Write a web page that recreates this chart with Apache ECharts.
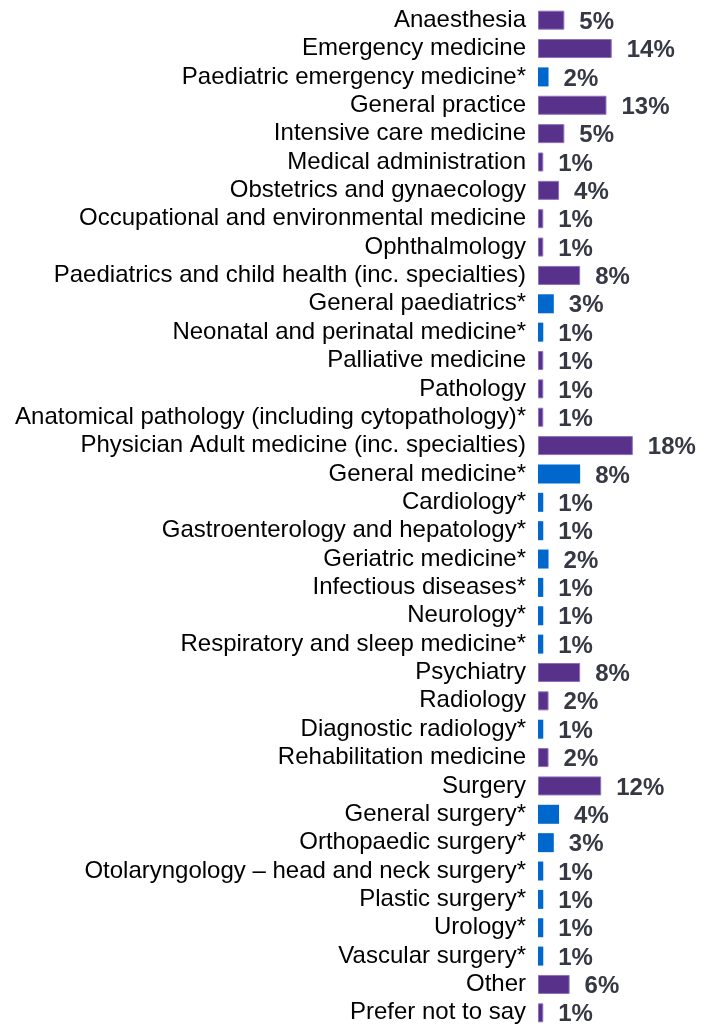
<!DOCTYPE html>
<html>
<head>
<meta charset="utf-8">
<script src="https://cdn.jsdelivr.net/npm/echarts@6/dist/echarts.min.js"></script>
<style>
html,body{margin:0;padding:0;background:#fff;}
#chart{width:712px;height:1027px;}
</style>
</head>
<body>
<div id="chart"></div>
<script>
var categories = [
	'Anaesthesia',
	'Emergency medicine',
	'Paediatric emergency medicine*',
	'General practice',
	'Intensive care medicine',
	'Medical administration',
	'Obstetrics and gynaecology',
	'Occupational and environmental medicine',
	'Ophthalmology',
	'Paediatrics and child health (inc. specialties)',
	'General paediatrics*',
	'Neonatal and perinatal medicine*',
	'Palliative medicine',
	'Pathology',
	'Anatomical pathology (including cytopathology)*',
	'Physician Adult medicine (inc. specialties)',
	'General medicine*',
	'Cardiology*',
	'Gastroenterology and hepatology*',
	'Geriatric medicine*',
	'Infectious diseases*',
	'Neurology*',
	'Respiratory and sleep medicine*',
	'Psychiatry',
	'Radiology',
	'Diagnostic radiology*',
	'Rehabilitation medicine',
	'Surgery',
	'General surgery*',
	'Orthopaedic surgery*',
	'Otolaryngology \u2013 head and neck surgery*',
	'Plastic surgery*',
	'Urology*',
	'Vascular surgery*',
	'Other',
	'Prefer not to say'
];
var values = [5,14,2,13,5,1,4,1,1,8,3,1,1,1,1,18,8,1,1,2,1,1,1,8,2,1,2,12,4,3,1,1,1,1,6,1];
// 1 = sub-specialty (blue), 0 = main group (purple)
var isSub = [0,0,1,0,0,0,0,0,0,0,1,1,0,0,0,0,1,1,1,1,1,1,1,0,0,1,0,0,1,1,1,1,1,1,0,0];

var purple = '#58318a', blue = '#0068cc';

var barData = [];
for (var i = 0; i < values.length; i++) {
	barData.push({
		value: values[i],
		itemStyle: isSub[i] ? { color: blue } : { color: purple, borderColor: '#8c72b8', borderWidth: 1 }
	});
}

var myChart = echarts.init(document.getElementById('chart'));
myChart.setOption({
	animation: false,
	grid: { left: 538, top: 6, width: 158, height: 1024 },
	xAxis: {
		type: 'value', min: 0, max: 30, show: false
	},
	yAxis: {
		type: 'category',
		inverse: true,
		data: categories,
		axisLine: { show: false },
		axisTick: { show: false },
		axisLabel: {
			interval: 0,
			margin: 12,
			color: '#000',
			fontSize: 24,
			fontFamily: 'Liberation Sans, Arial, sans-serif'
		}
	},
	series: [{
		type: 'bar',
		barWidth: 19,
		data: barData,
		label: {
			show: true,
			position: 'right',
			distance: 15,
			offset: [0, 2],
			formatter: '{c}%',
			color: '#363843',
			fontSize: 24,
			fontWeight: 'bold',
			fontFamily: 'Liberation Sans, Arial, sans-serif'
		}
	}]
});
window.onresize = myChart.resize;
</script>
</body>
</html>
